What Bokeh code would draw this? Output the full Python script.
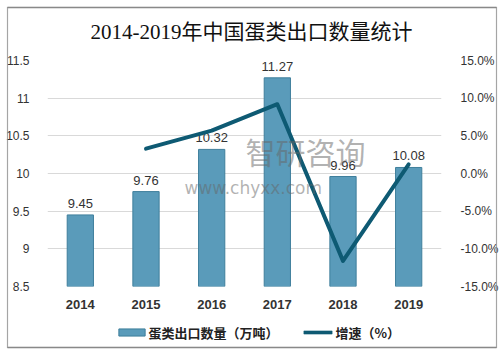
from bokeh.plotting import figure
from bokeh.models import (Range1d, LinearAxis, FixedTicker, PrintfTickFormatter,
                          CustomJSTickFormatter, Label, ColumnDataSource, FactorRange)
from bokeh.embed import file_html
from bokeh.resources import INLINE
from bokeh.core.properties import value

years = ["2014", "2015", "2016", "2017", "2018", "2019"]
volume = [9.45, 9.76, 10.32, 11.27, 9.96, 10.08]
growth_years = ["2015", "2016", "2017", "2018", "2019"]
growth = [3.3, 5.7, 9.2, -11.6, 1.2]
left_ticks = [8.5, 9, 9.5, 10, 10.5, 11, 11.5]
right_ticks = [-15, -10, -5, 0, 5, 10, 15]
title_text = "2014-2019年中国蛋类出口数量统计"
bar_name = "蛋类出口数量（万吨）"
line_name = "增速（%）"

BAR_FILL, BAR_LINE, LINE_COL, FRAME_COL = "#5a9bba", "#3f7f9c", "#0e5a73", "#8a8a8a"

W, H = 502, 353
p = figure(width=W, height=H, x_range=FactorRange(*years, range_padding=0),
           y_range=Range1d(8.5, 11.5), output_backend="svg", toolbar_location=None,
           min_border_left=47, min_border_right=61, min_border_top=60, min_border_bottom=67)
p.outline_line_color = None
p.background_fill_color = "white"
p.border_fill_color = "white"
p.extra_y_ranges = {"pct": Range1d(-15, 15)}

src = ColumnDataSource(dict(x=years, y=volume, lab=[f"{v:.2f}" for v in volume]))
bars = p.vbar(x="x", top="y", bottom=8.5, width=0.4, source=src,
              fill_color=BAR_FILL, line_color=BAR_LINE, line_width=1)
p.text(x="x", y="y", text="lab", source=src, y_offset=-7, text_align="center",
       text_baseline="bottom", text_font=value("Liberation Sans"), text_font_size="13px",
       text_color="#333333")
line = p.line(x=growth_years, y=growth, y_range_name="pct", line_color=LINE_COL,
              line_width=4, line_join="round", line_cap="round")

# axes
ly = p.yaxis[0]
ly.ticker = FixedTicker(ticks=left_ticks)
ly.formatter = CustomJSTickFormatter(code="return tick.toString();")
ly.axis_line_color = None
ly.major_tick_line_color = None
ly.minor_tick_line_color = None
ly.major_label_text_font = "Liberation Sans"
ly.major_label_text_font_size = "12px"
ly.major_label_text_color = "#333333"
ly.major_label_standoff = 12

ry = LinearAxis(y_range_name="pct", ticker=FixedTicker(ticks=right_ticks),
                formatter=PrintfTickFormatter(format="%.1f%%"))
ry.axis_line_color = None
ry.major_tick_line_color = None
ry.minor_tick_line_color = None
ry.major_label_text_font = "Liberation Sans"
ry.major_label_text_font_size = "12px"
ry.major_label_text_color = "#333333"
ry.major_label_standoff = 13
p.add_layout(ry, "right")

xa = p.xaxis[0]
xa.axis_line_color = None
xa.major_tick_line_color = None
xa.minor_tick_line_color = None
xa.major_label_text_font = "Liberation Sans"
xa.major_label_text_font_style = "bold"
xa.major_label_text_font_size = "13px"
xa.major_label_text_color = "#333333"
xa.major_label_standoff = 7

p.xgrid.grid_line_color = None
p.ygrid.ticker = FixedTicker(ticks=left_ticks)
p.ygrid.grid_line_color = "#d9d9d9"


def canvas_label(**kw):
    return Label(x_units="canvas", y_units="canvas", **kw)


def strip(x, y, half_w, half_h, color):
    return canvas_label(x=x, y=y, text=" ", text_font_size="1px", text_align="center",
                        text_baseline="middle", background_fill_color=color,
                        border_line_color=color, border_line_width=0.5,
                        padding=dict(left=half_w, right=half_w, top=half_h, bottom=half_h))


# title (in the top panel)
p.add_layout(canvas_label(x=251, y=31, text=title_text,
                          text_font="Liberation Serif, Noto Sans CJK SC",
                          text_font_size="21px", text_color="#111111",
                          text_align="center", text_baseline="middle"), "above")

# outer border: thin strips spread over panels that have room for them
p.add_layout(strip(251.5, 7, 244, 0, FRAME_COL), "above")
p.add_layout(strip(251.5, 347, 244, 0, FRAME_COL), "below")
p.add_layout(strip(7, 177, 0, 170, FRAME_COL), "left")
p.add_layout(strip(496, 177, 0, 170, FRAME_COL), "left")

# legend (hand-built: swatches + labels)
p.add_layout(canvas_label(x=131.5, y=332, text=" ", text_font_size="1px",
                          text_align="center", text_baseline="middle",
                          background_fill_color=BAR_FILL, border_line_color=BAR_LINE,
                          padding=dict(left=13, right=13, top=3, bottom=3)), "above")
p.add_layout(strip(317.5, 332, 14, 1, LINE_COL), "above")
p.add_layout(canvas_label(x=148, y=332, text=bar_name, text_font="Noto Sans CJK SC",
                          text_font_size="13px", text_font_style="bold",
                          text_color="#222222", text_baseline="middle"), "below")
p.add_layout(canvas_label(x=335, y=332, text=line_name, text_font="Noto Sans CJK SC",
                          text_font_size="13px", text_font_style="bold",
                          text_color="#222222", text_baseline="middle"), "below")

# watermark
p.add_layout(canvas_label(x=245, y=150, text="智研咨询", text_font="Noto Sans CJK SC",
                          text_font_size="30px", text_color="#666666", text_alpha=0.5,
                          text_baseline="middle"))
p.add_layout(canvas_label(x=184, y=187, text="www.chyxx.com", text_font="DejaVu Sans",
                          text_font_size="17px", text_color="#666666", text_alpha=0.5,
                          text_baseline="middle"))

open("out.html", "w").write(file_html(p, INLINE))
